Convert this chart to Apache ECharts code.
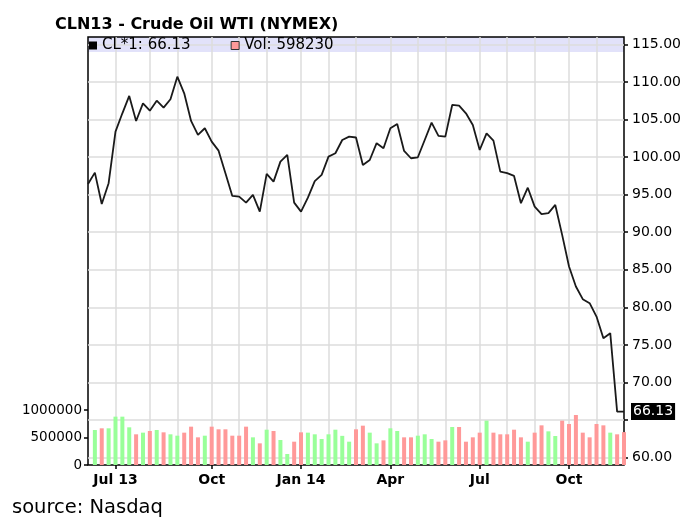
<!DOCTYPE html>
<html><head><meta charset="utf-8">
<script src="https://cdn.jsdelivr.net/npm/echarts@6/dist/echarts.min.js"></script>
<style>html,body{margin:0;padding:0;background:#fff}#c{width:694px;height:524px}</style>
</head><body><div id="c"></div>
<script>
// Weekly (Monday) categories
const weeks = [
'2013-06-03','2013-06-10','2013-06-17','2013-06-24',
'2013-07-01','2013-07-08','2013-07-15','2013-07-22','2013-07-29',
'2013-08-05','2013-08-12','2013-08-19','2013-08-26',
'2013-09-02','2013-09-09','2013-09-16','2013-09-23','2013-09-30',
'2013-10-07','2013-10-14','2013-10-21','2013-10-28',
'2013-11-04','2013-11-11','2013-11-18','2013-11-25',
'2013-12-02','2013-12-09','2013-12-16','2013-12-23','2013-12-30',
'2014-01-06','2014-01-13','2014-01-20','2014-01-27',
'2014-02-03','2014-02-10','2014-02-17','2014-02-24',
'2014-03-03','2014-03-10','2014-03-17','2014-03-24','2014-03-31',
'2014-04-07','2014-04-14','2014-04-21','2014-04-28',
'2014-05-05','2014-05-12','2014-05-19','2014-05-26',
'2014-06-02','2014-06-09','2014-06-16','2014-06-23','2014-06-30',
'2014-07-07','2014-07-14','2014-07-21','2014-07-28',
'2014-08-04','2014-08-11','2014-08-18','2014-08-25',
'2014-09-01','2014-09-08','2014-09-15','2014-09-22','2014-09-29',
'2014-10-06','2014-10-13','2014-10-20','2014-10-27',
'2014-11-03','2014-11-10','2014-11-17','2014-11-24',
'2014-12-01'
];
// Weekly close price (CL*1)
const price = [
96.42, 97.93, 93.76, 96.52,
103.38, 105.82, 108.13, 104.80, 107.15,
106.17, 107.50, 106.57, 107.69,
110.69, 108.48, 104.80, 102.94, 103.83,
102.05, 100.85, 97.85, 94.83,
94.73, 93.94, 94.96, 92.74,
97.75, 96.73, 99.39, 100.28, 93.94,
92.74, 94.60, 96.80, 97.62,
100.05, 100.50, 102.27, 102.71,
102.60, 98.95, 99.61, 101.84, 101.17,
103.83, 104.40, 100.81, 99.84,
99.97, 102.27, 104.57, 102.81,
102.71, 106.93, 106.85, 105.82, 104.27,
100.94, 103.16, 102.18, 98.06,
97.85, 97.49, 93.86, 95.92,
93.40, 92.40, 92.53, 93.63, 89.64,
85.43, 82.77, 81.09, 80.56,
78.78, 75.90, 76.57, 66.13,
66.13
];
// Weekly volume
const volume = [
null, 636000, 667000, 667000,
879000, 879000, 685000, 558000, 588000,
618000, 636000, 594000, 558000,
533000, 588000, 697000, 503000, 533000,
697000, 649000, 649000, 533000,
533000, 697000, 503000, 394000,
642000, 618000, 455000, 200000, 424000,
594000, 588000, 558000, 473000,
558000, 642000, 530000, 424000,
649000, 715000, 588000, 394000, 448000,
667000, 618000, 503000, 503000,
533000, 558000, 473000, 424000,
448000, 691000, 691000, 424000, 503000,
588000, 806000, 588000, 558000,
558000, 642000, 503000, 424000,
588000, 721000, 612000, 527000, 806000,
745000, 909000, 588000, 503000,
745000, 721000, 588000, 558000,
598230
];
// Labelled ticks on the time axis
const labelDates = ['2013-07-01','2013-10-07','2014-01-06','2014-04-07','2014-07-07','2014-10-06'];
const labelTexts = ['Jul 13','Oct','Jan 14','Apr','Jul','Oct'];

const GREEN = '#99ff99', RED = '#ff9999', GRIDC = '#dcdcdc';
const last = price[price.length - 1];
const lastVol = volume[volume.length - 1];
const nW = weeks.length;
const isMonthStart = (i, v) => i > 0 && i < nW - 1 && +v.slice(8) <= 7;
const isLabel = v => labelDates.indexOf(v) >= 0;
const L = 88, R = 70;
const FONT = 'DejaVu Sans';

const chart = echarts.init(document.getElementById('c'));
chart.setOption({
  animation: false,
  textStyle: {fontFamily: FONT},
  title: [
    {text: 'CLN13 - Crude Oil WTI (NYMEX)', left: 55, top: 17, padding: 0,
     textStyle: {fontSize: 16, fontWeight: 'bold', color: '#000', fontFamily: FONT}},
    {text: 'source: Nasdaq', left: 12, top: 498, padding: 0,
     textStyle: {fontSize: 19.5, fontWeight: 'normal', color: '#000', fontFamily: FONT}}
  ],
  legend: {
    left: 89, top: 38, padding: 0, itemGap: 40, itemWidth: 8, itemHeight: 8, icon: 'rect',
    textStyle: {fontSize: 15, color: '#000', fontFamily: FONT},
    data: [
      {name: 'CL*1', itemStyle: {color: '#000'}},
      {name: 'Vol', itemStyle: {color: RED, borderColor: '#333', borderWidth: 1}}
    ],
    formatter: n => n === 'CL*1' ? 'CL*1: ' + last.toFixed(2) : 'Vol: ' + lastVol
  },
  graphic: [
    {type: 'rect', shape: {x: L, y: 37, width: 536, height: 15}, style: {fill: '#e2e2fa'}, z: -1, silent: true}
  ],
  grid: [
    {left: L, right: R, top: 37, bottom: 59, show: true, borderColor: '#000', borderWidth: 1.5, backgroundColor: 'transparent'},
    {left: L, right: R, top: 44.3, bottom: 66.3},
    {left: L, right: R, top: 410, bottom: 59}
  ],
  xAxis: [
    {gridIndex: 0, type: 'category', data: weeks, boundaryGap: false,
     axisLine: {show: false},
     axisTick: {show: true, interval: (i, v) => isLabel(v), length: 4, lineStyle: {color: '#000', width: 1.5}},
     axisLabel: {interval: (i, v) => isLabel(v), formatter: v => labelTexts[labelDates.indexOf(v)] || '',
                 fontWeight: 'bold', fontSize: 14, color: '#000', margin: 8, fontFamily: FONT},
     splitLine: {show: true, interval: (i, v) => isMonthStart(i, v), lineStyle: {color: GRIDC, width: 1.5}}},
    {gridIndex: 1, type: 'category', data: weeks, boundaryGap: false, show: false},
    {gridIndex: 2, type: 'category', data: weeks, boundaryGap: false, show: false}
  ],
  yAxis: [
    {gridIndex: 0, type: 'value', show: false},
    {gridIndex: 1, type: 'value', position: 'right', min: 60, max: 115, interval: 5,
     axisLine: {show: false},
     axisTick: {show: true, length: 4, lineStyle: {color: '#000', width: 1.5}},
     axisLabel: {formatter: v => Math.abs(v - last) < 2.5 ? '' : v.toFixed(2), fontSize: 14, color: '#000', margin: 8, fontFamily: FONT},
     splitLine: {show: true, lineStyle: {color: GRIDC, width: 1.5}}},
    {gridIndex: 2, type: 'value', position: 'left', min: 0, max: 1000000, interval: 500000,
     axisLine: {show: false},
     axisTick: {show: true, length: 4, lineStyle: {color: '#000', width: 1.5}},
     axisLabel: {formatter: v => String(v), fontSize: 13.5, color: '#000', margin: 6, fontFamily: FONT},
     splitLine: {show: false}}
  ],
  series: [
    {name: 'CL*1', type: 'line', xAxisIndex: 1, yAxisIndex: 1, data: price, symbol: 'none',
     lineStyle: {color: '#1a1a1a', width: 1.8}, itemStyle: {color: '#000'}, z: 3,
     markLine: {silent: true, symbol: 'none', animation: false,
       data: [{yAxis: last}],
       lineStyle: {color: 'rgba(0,0,0,0)', width: 0},
       label: {position: 'end', distance: 7, formatter: () => last.toFixed(2), color: '#fff',
               backgroundColor: '#000', padding: [2, 2, 1, 2], fontSize: 14, fontFamily: FONT}}},
    {name: 'Vol', type: 'bar', xAxisIndex: 2, yAxisIndex: 2, data: volume, barWidth: 4,
     itemStyle: {color: p => (p.dataIndex > 0 && price[p.dataIndex] > price[p.dataIndex - 1]) ? GREEN : RED}}
  ]
});
</script>
</body></html>
